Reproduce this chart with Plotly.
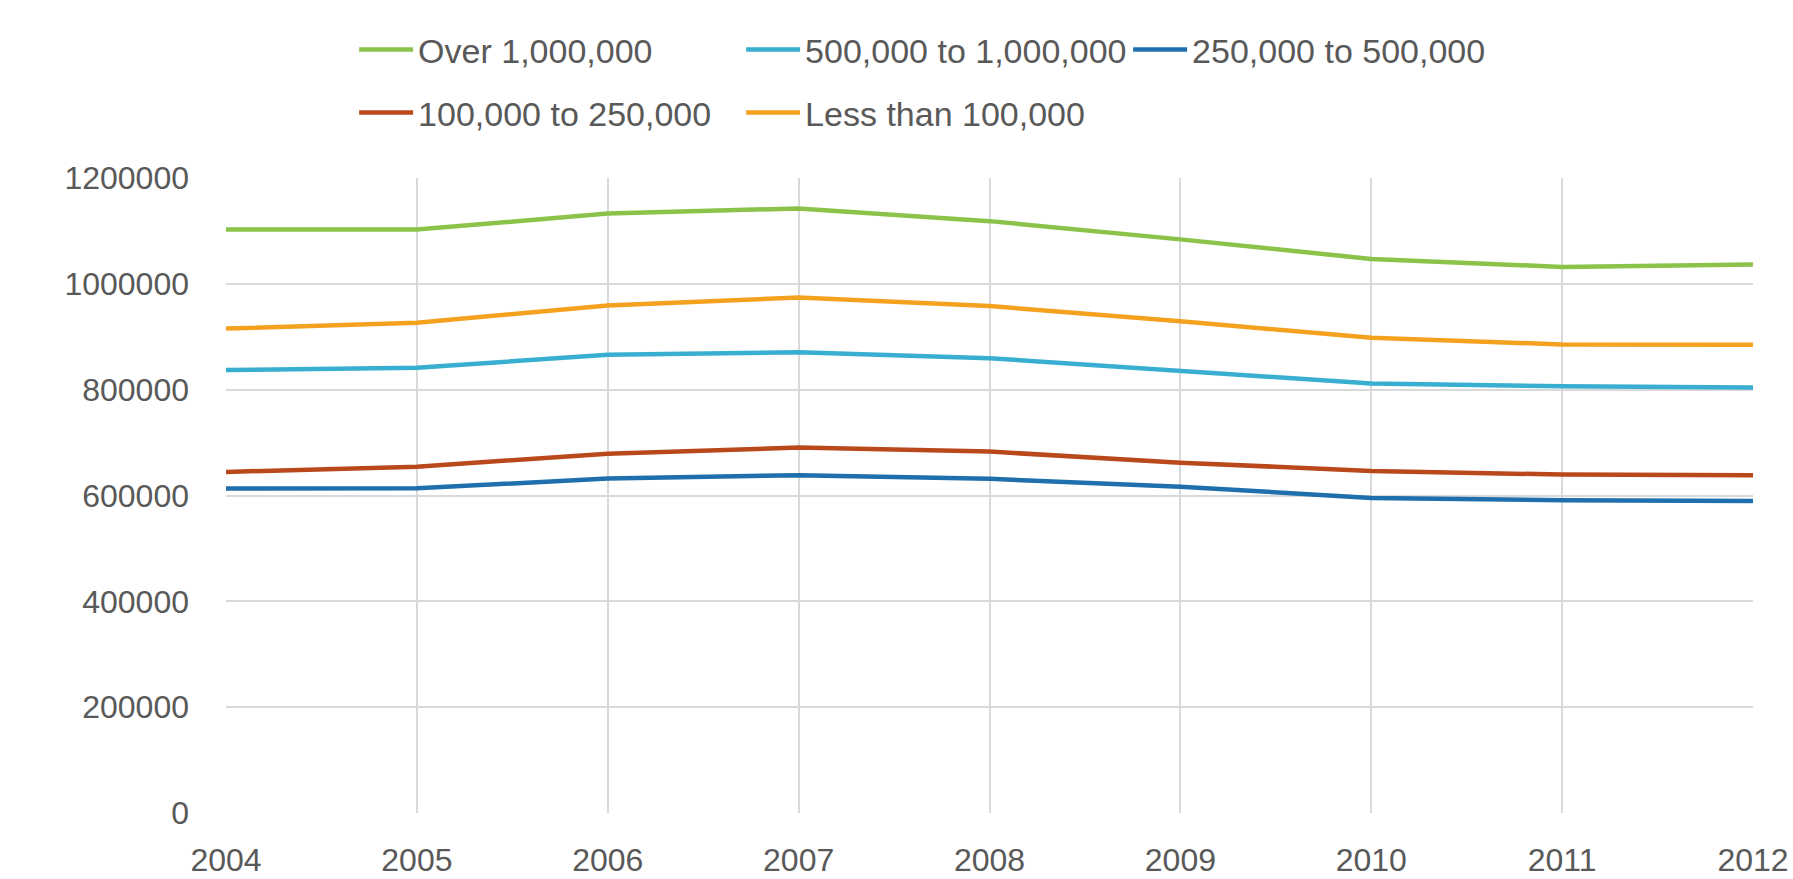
import plotly.graph_objects as go

# Years on the x axis
years = [2004, 2005, 2006, 2007, 2008, 2009, 2010, 2011, 2012]

# One series per population band
over_1m = [1102500, 1102500, 1133000, 1142500, 1118500, 1084000, 1047000, 1032000, 1036500]
from_500k_to_1m = [837000, 841500, 866000, 870500, 859500, 836500, 811500, 806500, 804000]
from_250k_to_500k = [613000, 613500, 632000, 638500, 631500, 616500, 595500, 591000, 589500]
from_100k_to_250k = [644500, 654500, 679000, 690500, 683000, 662000, 646500, 639500, 638500]
under_100k = [915500, 926500, 959000, 974000, 958000, 929500, 898000, 885500, 885000]

y_ticks = [0, 200000, 400000, 600000, 800000, 1000000, 1200000]

series = [
    ("Over 1,000,000", over_1m, "#8bc34a", "legend"),
    ("500,000 to 1,000,000", from_500k_to_1m, "#38afd0", "legend"),
    ("250,000 to 500,000", from_250k_to_500k, "#1e6fab", "legend"),
    ("100,000 to 250,000", from_100k_to_250k, "#b9481b", "legend2"),
    ("Less than 100,000", under_100k, "#f4a11f", "legend2"),
]

FONT = "Liberation Sans, Arial, sans-serif"
TEXT = "#595959"
GRID = "#d9d9d9"

fig = go.Figure()
for name, vals, color, leg in series:
    fig.add_trace(go.Scatter(
        x=years, y=vals, name=name, mode="lines",
        line=dict(color=color, width=4.5),
        legend=leg,
    ))

legend_common = dict(
    orientation="h",
    xref="container", yref="container",
    x=0.1975, xanchor="left", yanchor="middle",
    font=dict(family=FONT, size=34, color=TEXT),
    itemwidth=54,
    entrywidthmode="pixels", entrywidth=318,
    bgcolor="rgba(0,0,0,0)", borderwidth=0,
    itemclick=False, itemdoubleclick=False,
)

fig.update_layout(
    width=1793, height=879,
    margin=dict(l=226, r=40, t=178, b=66, pad=0, autoexpand=False),
    paper_bgcolor="white", plot_bgcolor="white",
    font=dict(family=FONT, size=32, color=TEXT),
    showlegend=True,
    legend=dict(legend_common, y=1 - 50 / 879),
    legend2=dict(legend_common, y=1 - 113 / 879),
    xaxis=dict(
        range=[2004, 2012], tickmode="array", tickvals=years,
        ticktext=[str(y) for y in years],
        showgrid=True, gridcolor=GRID, gridwidth=2,
        zeroline=False, showline=False, ticks="",
        ticklabelstandoff=25, automargin=False,
        tickfont=dict(family=FONT, size=32, color=TEXT),
    ),
    yaxis=dict(
        range=[0, 1200000], tickmode="array", tickvals=y_ticks,
        ticktext=[str(v) for v in y_ticks],
        showgrid=True, gridcolor=GRID, gridwidth=2,
        zeroline=False, showline=False, ticks="",
        ticklabelstandoff=36, automargin=False,
        tickfont=dict(family=FONT, size=32, color=TEXT),
    ),
)

fig.write_html("out.html", post_script="document.body.style.margin='0';")
